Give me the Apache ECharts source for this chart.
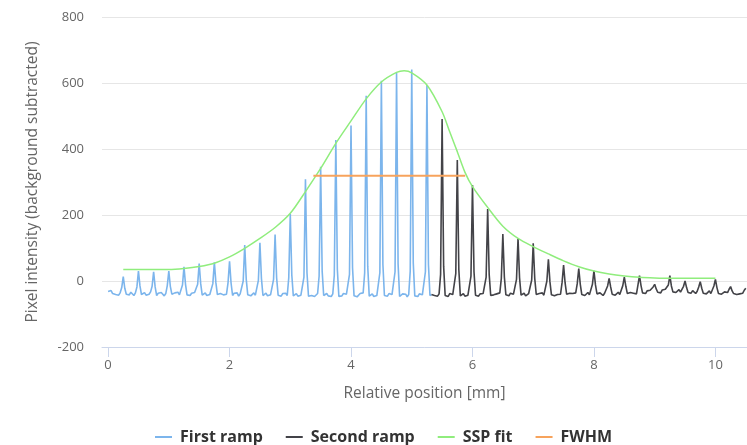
<!DOCTYPE html>
<html>
<head>
<meta charset="utf-8">
<script src="https://cdn.jsdelivr.net/npm/echarts@6/dist/echarts.min.js"></script>
<style>
  html, body { margin: 0; padding: 0; background: #fff; }
  #chart { width: 747px; height: 445px; }
</style>
</head>
<body>
<div id="chart"></div>
<script>
// sample spacing of the profiles [mm]
const step = 0.025;

// first ramp, starts at 0 mm, one row per 0.25 mm (peak first)
const firstRamp = [
  -32, -36, -29, -38, -34, -41, -37, -43, -35, -20,
  13, -22, -40, -36, -42, -34, -38, -44, -36, -18,
  30, -15, -41, -38, -35, -43, -37, -40, -33, -16,
  28, -18, -44, -37, -41, -35, -39, -45, -38, -14,
  30, -16, -40, -43, -36, -38, -34, -42, -37, -12,
  43, -10, -42, -38, -44, -37, -40, -35, -39, -10,
  53, -8, -43, -39, -36, -44, -38, -41, -36, -8,
  57, -5, -41, -45, -38, -35, -42, -37, -40, -6,
  60, -6, -44, -37, -41, -36, -46, -39, -35, 0,
  109, 5, -42, -38, -45, -40, -36, -43, -38, 2,
  116, 8, -44, -40, -37, -45, -39, -42, -36, 5,
  141, 10, -43, -39, -46, -38, -41, -37, -44, 10,
  203, 18, -45, -41, -38, -46, -40, -43, -37, 12,
  308, 25, -46, -40, -44, -39, -47, -41, -38, 15,
  346, 30, -44, -42, -38, -45, -40, -47, -39, 18,
  427, 35, -47, -41, -45, -38, -43, -40, -46, 20,
  471, 40, -45, -40, -48, -42, -38, -44, -36, 25,
  561, 45, -46, -42, -39, -47, -41, -44, -38, 25,
  607, 50, -44, -40, -46, -38, -43, -41, -45, 28,
  631, 52, -47, -42, -39, -45, -40, -48, -41, 30,
  641, 55, -45, -41, -47, -39, -44, -42, -38, 28,
  594, 50, -44, -41
];

// second ramp, starts at 5.325 mm
const secondStart = 5.325;
const secondRamp = [
  -41, -38, -44, -40, -46, -39, 20,
  491, 45, -44, -40, -47, -38, -43, -41, -45, 22,
  367, 35, -45, -41, -38, -46, -40, -43, -37, 15,
  291, 28, -43, -40, -46, -39, -44, -38, -42, 12,
  218, 20, -44, -38, -42, -47, -39, -41, -36, 8,
  142, 12, -42, -39, -45, -37, -43, -40, -38, 5,
  129, 10, -43, -40, -37, -45, -41, -38, -44, 3,
  114, 8, -41, -44, -38, -42, -36, -43, -39, 0,
  66, -2, -42, -38, -45, -39, -41, -36, -40, -5,
  48, -6, -40, -43, -37, -41, -38, -44, -36, -8,
  38, -10, -41, -37, -44, -39, -35, -42, -38, -10,
  31, -12, -39, -42, -36, -40, -44, -37, -41, -15,
  8, -18, -40, -36, -43, -38, -34, -41, -35, -14,
  12, -16, -38, -42, -35, -40, -37, -33, -39, -12,
  16, -14, -36, -32, -38, -30, -35, -28, -33, -18,
  -10, -24, -34, -29, -36, -27, -32, -25, -31, -12,
  16, -15, -33, -28, -35, -30, -26, -34, -29, -16,
  0, -20, -35, -30, -37, -29, -33, -38, -31, -18,
  -2, -22, -37, -32, -39, -34, -30, -38, -35, -15,
  5, -20, -38, -34, -40, -36, -33, -39, -35, -25,
  -17, -30, -38, -35, -41, -36, -39, -34, -37, -28,
  -22
];

// SSP fit
const fitX = [0.25, 0.5, 0.75, 1.0, 1.25, 1.5, 1.75, 2.0, 2.25, 2.5, 2.75, 3.0, 3.25, 3.5, 3.75,
  4.0, 4.25, 4.5, 4.75, 4.875, 5.0, 5.25, 5.5, 5.625, 5.75, 5.875, 6.0, 6.25, 6.5, 6.75, 7.0,
  7.25, 7.5, 7.75, 8.0, 8.25, 8.5, 8.75, 9.0, 9.25, 9.5, 9.75, 10.0];
const fitY = [35, 35, 35, 35, 38, 44, 54, 73, 99, 129, 162, 205, 271, 341, 417,
  485, 552, 603, 632, 637, 631, 594, 513, 452, 392, 330, 286, 223, 166, 129, 104,
  82, 61, 43, 30, 21, 15, 11, 9, 8, 8, 8, 8];

// FWHM
const fwhmX = [3.38, 5.88];
const fwhmY = [319, 319];

const xTicks = [0, 2, 4, 6, 8, 10];

const toPoints = (arr, x0) => arr.map((y, i) => [+(x0 + i * step).toFixed(3), y]);
const zip = (xs, ys) => xs.map((x, i) => [x, ys[i]]);

const font = "'Open Sans', 'DejaVu Sans', sans-serif";
const chart = echarts.init(document.getElementById('chart'));
chart.setOption({
  animation: false,
  textStyle: { fontFamily: font },
  grid: { left: 102, right: 0, top: 17, bottom: 98 },
  legend: {
    bottom: 0,
    left: 155,
    padding: 0,
    icon: 'rect',
    itemWidth: 17,
    itemHeight: 2,
    itemGap: 23,
    textStyle: { color: '#333', fontWeight: 'bold', fontSize: 16, fontFamily: font, padding: [0, 0, 0, 3] },
    data: ['First ramp', 'Second ramp', 'SSP fit', 'FWHM']
  },
  xAxis: {
    type: 'value',
    min: -0.1,
    max: 10.52,
    name: 'Relative position [mm]',
    nameLocation: 'middle',
    nameGap: 39,
    nameTextStyle: { color: '#666', fontSize: 15.5 },
    axisLine: { show: true, onZero: false, lineStyle: { color: '#ccd6eb' } },
    axisTick: { show: true, length: 10, customValues: xTicks, lineStyle: { color: '#ccd6eb' } },
    axisLabel: { color: '#666', fontSize: 13, margin: 12, customValues: xTicks },
    splitLine: { show: false }
  },
  yAxis: {
    type: 'value',
    min: -200,
    max: 800,
    interval: 200,
    name: 'Pixel intensity (background subtracted)',
    nameLocation: 'middle',
    nameGap: 61,
    nameTextStyle: { color: '#666', fontSize: 15.5 },
    axisLine: { show: false },
    axisTick: { show: false },
    axisLabel: { color: '#666', fontSize: 13, margin: 18 },
    splitLine: { lineStyle: { color: '#e6e6e6' } }
  },
  series: [
    {
      name: 'First ramp',
      type: 'line',
      color: '#7cb5ec',
      symbol: 'none',
      lineStyle: { width: 1.6 },
      data: toPoints(firstRamp, 0)
    },
    {
      name: 'Second ramp',
      type: 'line',
      color: '#434348',
      symbol: 'none',
      lineStyle: { width: 1.6 },
      data: toPoints(secondRamp, secondStart)
    },
    {
      name: 'SSP fit',
      type: 'line',
      color: '#90ed7d',
      symbol: 'none',
      smooth: 0.3,
      lineStyle: { width: 1.5 },
      data: zip(fitX, fitY)
    },
    {
      name: 'FWHM',
      type: 'line',
      color: '#f7a35c',
      symbol: 'none',
      lineStyle: { width: 2 },
      data: zip(fwhmX, fwhmY)
    }
  ]
});
</script>
</body>
</html>
